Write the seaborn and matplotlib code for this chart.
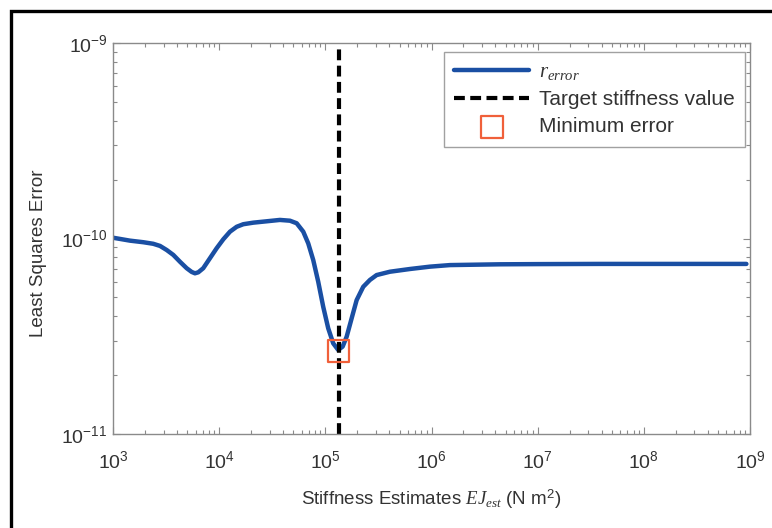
import matplotlib
matplotlib.use("Agg")
import matplotlib.pyplot as plt
import seaborn as sns
import numpy as np
import pandas as pd
from matplotlib.patches import Rectangle

# ---- data (log10 units) ----
log_stiffness = [3.000, 3.160, 3.285, 3.379, 3.443, 3.506, 3.568, 3.631, 3.694,
                 3.741, 3.772, 3.803, 3.850, 3.913, 3.976, 4.039, 4.102, 4.165,
                 4.227, 4.321, 4.447, 4.572, 4.667, 4.730, 4.792, 4.839, 4.886,
                 4.933, 4.980, 5.027, 5.074, 5.121, 5.163, 5.201, 5.248, 5.295,
                 5.357, 5.420, 5.483, 5.608, 5.797, 5.985, 6.173, 6.644, 7.000,
                 7.586, 8.966]
log_error = [-9.996, -10.011, -10.019, -10.027, -10.038, -10.059, -10.084,
             -10.119, -10.152, -10.171, -10.178, -10.173, -10.152, -10.101,
             -10.050, -10.004, -9.965, -9.940, -9.927, -9.919, -9.912, -9.905,
             -9.909, -9.922, -9.965, -10.025, -10.110, -10.221, -10.349,
             -10.459, -10.536, -10.570, -10.553, -10.502, -10.408, -10.315,
             -10.247, -10.212, -10.187, -10.170, -10.156, -10.144, -10.136,
             -10.132, -10.131, -10.130, -10.130]
target_stiffness = 1.35e5
min_stiffness = [1.33e5]
min_error = [2.66e-11]
x_ticks = [1e3, 1e4, 1e5, 1e6, 1e7, 1e8, 1e9]
y_ticks = [1e-11, 1e-10, 1e-9]

sns.set_theme(style="white")
plt.rcParams["font.family"] = ["Liberation Sans", "DejaVu Sans"]
plt.rcParams["mathtext.fontset"] = "custom"
plt.rcParams["mathtext.rm"] = "Liberation Sans"
plt.rcParams["mathtext.it"] = "Liberation Serif:italic"
plt.rcParams["mathtext.bf"] = "Liberation Sans:bold"
plt.rcParams["axes.unicode_minus"] = False

text_col = "#333333"
spine_col = "#8a8a8a"

fig = plt.figure(figsize=(7.72, 5.28), dpi=100)
ax = fig.add_axes([113/772, 1-434/528, (750-113)/772, (434-43)/528])

df = pd.DataFrame({"x": np.power(10.0, log_stiffness),
                   "y": np.power(10.0, log_error)})
sns.lineplot(data=df, x="x", y="y", ax=ax, color="#1a4fa3", linewidth=3.2,
             label=r"$r_{error}$", sort=False)
ax.axvline(target_stiffness, color="black", linewidth=3.0,
           linestyle=(0, (2.6, 1.3)), label="Target stiffness value")
sns.scatterplot(x=min_stiffness, y=min_error, ax=ax, marker="s", s=250,
                facecolor="none", edgecolor="#f0603a", linewidth=1.6,
                label="Minimum error", zorder=5)

ax.set_xscale("log")
ax.set_yscale("log")
ax.set_xlim(1e3, 1e9)
ax.set_ylim(1e-11, 1e-9)
ax.set_xticks(x_ticks)
ax.set_yticks(y_ticks)

for s in ax.spines.values():
    s.set_color(spine_col)
    s.set_linewidth(1.0)

ax.tick_params(which="both", direction="in", top=True, right=True,
               left=True, bottom=True, color=spine_col, width=0.8)
ax.tick_params(which="major", length=5, labelsize=14, labelcolor=text_col)
ax.tick_params(which="minor", length=3)
ax.tick_params(axis="x", which="major", pad=12)
ax.tick_params(axis="y", which="major", pad=4)

ax.set_xlabel(r"Stiffness Estimates $EJ_{est}$ (N m$^2$)", fontsize=13.5,
              color=text_col, labelpad=11)
ax.set_ylabel("Least Squares Error", fontsize=13.5, color=text_col)
ax.yaxis.set_label_coords((47 - 113) / 637, (434 - 253) / 391)

leg = ax.legend(loc="upper right", bbox_to_anchor=(1 - 5/637, 1 - 9/391),
                borderaxespad=0, fontsize=15, frameon=True, fancybox=False,
                edgecolor=spine_col, handlelength=3.6, labelspacing=0.38,
                borderpad=0.5, handletextpad=0.45)
leg.get_frame().set_linewidth(1.0)
for t in leg.get_texts():
    t.set_color(text_col)

# outer figure frame
fig.add_artist(Rectangle((11/772, -0.1), 1.2, 1.1 - 11/528,
                         transform=fig.transFigure, fill=False,
                         edgecolor="black", linewidth=2.4))

fig.savefig("out.png", dpi=100)
